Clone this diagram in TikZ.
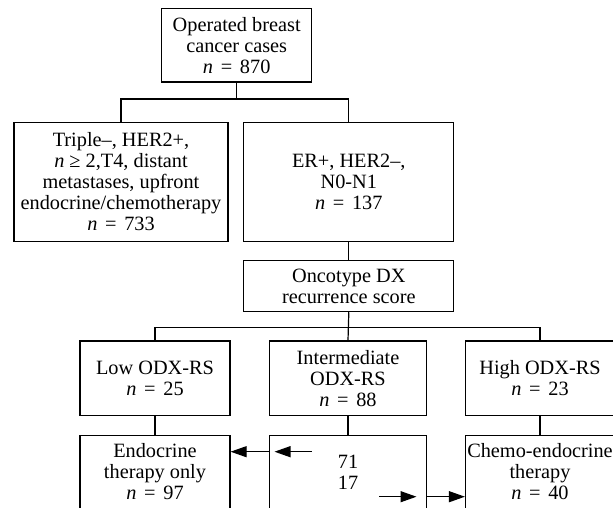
\documentclass[tikz,border=0pt]{standalone}
\usepackage{fontspec}
\setmainfont{Liberation Serif}
\usetikzlibrary{arrows.meta}
\newcommand{\eqn}[1]{\textit{n}\hspace{0.38em}=\hspace{0.38em}#1}
\begin{document}
\begin{tikzpicture}[x=1pt,y=-1pt,
  line width=1.2pt,main node/.style={draw,align=center,inner sep=0pt,font=\fontsize{20.3}{21}\selectfont},
  tip/.style={-{Triangle[length=16pt,width=11pt]}}]
  \clip (0,0) rectangle (613,508);

  \node[main node,minimum width=150pt,minimum height=73.5pt] (1) at (236.7,45.3) {Operated breast\\cancer cases\\\eqn{870}};
  \node[main node,minimum width=214pt,minimum height=119pt] (2) at (121,182) {Triple--, HER2+,\\\textit{n} ≥ 2,T4, distant\\metastases, upfront\\endocrine/chemotherapy\\\eqn{733}};
  \node[main node,minimum width=210pt,minimum height=119pt] (3) at (348.8,182) {ER+, HER2--,\\N0-N1\\\eqn{137}};
  \node[main node,minimum width=210pt,minimum height=51.7pt] (4) at (348.8,286) {Oncotype DX\\recurrence score};
  \node[main node,minimum width=150pt,minimum height=74.7pt] (5) at (155,378.4) {Low ODX-RS\\\eqn{25}};
  \node[main node,minimum width=157pt,minimum height=74.7pt] (6) at (348,378.4) {Intermediate\\ODX-RS\\\eqn{88}};
  \node[main node,minimum width=149pt,minimum height=74.7pt] (7) at (540,378.4) {High ODX-RS\\\eqn{23}};
  \node[main node,minimum width=150pt,minimum height=72.6pt] (8) at (155,472) {Endocrine\\therapy only\\\eqn{97}};
  \node[main node,minimum width=157pt,minimum height=72.6pt] (9) at (348,472) {71\\17};
  \node[main node,minimum width=149pt,minimum height=72.6pt] (10) at (540,472) {Chemo-endocrine\\therapy\\\eqn{40}};

  \draw (1.south) -- ++(0,16.4) -| (2.north);
  \draw (1.south) ++(0,16.4) -| (3.north);
  \draw (3.south) -- (4.north);
  \draw (4.south) -- ++(0,15.3) -| (5.north);
  \draw (4.south) ++(0,15.3) -| (7.north);
  \draw (4.south) -- (6.north);
  \draw (5.south) -- (8.north);
  \draw (6.south) -- (9.north);
  \draw (7.south) -- (10.north);

  \coordinate (a1) at (311.6,451.7);
  \coordinate (a2) at (274.5,451.7);
  \coordinate (b1) at (379,496.7);
  \coordinate (b2) at (416.5,496.7);
  \draw[tip] (a1) -- (a2);
  \draw[tip] (a1 -| 9.west) -- (a1 -| 8.east);
  \draw[tip] (b1) -- (b2);
  \draw[tip] (b1 -| 9.east) -- (b1 -| 10.west);
\end{tikzpicture}
\end{document}
